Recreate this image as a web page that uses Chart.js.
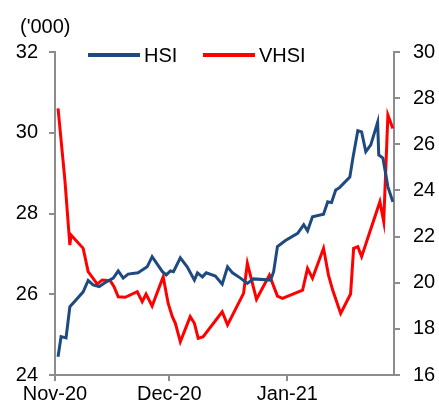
<!DOCTYPE html>
<html>
<head>
<meta charset="utf-8">
<script src="https://cdn.jsdelivr.net/npm/chart.js@4"></script>
<style>
    html, body { margin: 0; padding: 0; background: #fff; }
</style>
</head>
<body>
<canvas id="chart" width="439" height="411"></canvas>
<script>
// Días desde el 1 de noviembre de 2020
const tickDays = [0, 30, 61];
const tickLabels = ['Nov-20', 'Dec-20', 'Jan-21'];
const unitLabel = "('000)";

// HSI (eje izquierdo, miles)
const hsiDays = [0.8, 1.6, 2.9, 3.9, 5.5, 7.4, 8.7, 10, 11.6, 13.2, 15.3, 16.6, 17.9, 19.2, 21.8,
    24.2, 25.5, 28.2, 29.2, 30.3, 31.1, 32.9, 34.7, 36.6, 37.4, 38.7, 39.7, 42.1, 43.9, 45.3,
    46.6, 48.7, 50.5, 52.1, 56.6, 57.4, 58.4, 60.5, 63.7, 65.3, 66.3, 67.6, 70.5, 71.6, 72.6,
    73.7, 74.7, 77.4, 78.2, 79.5, 80.5, 81.6, 82.9, 84.7, 85, 86.1, 87.4, 88.7];
const hsiValues = [24.45, 24.95, 24.92, 25.69, 25.86, 26.06, 26.34, 26.23, 26.19, 26.29, 26.40, 26.58, 26.40, 26.50, 26.53,
    26.68, 26.93, 26.56, 26.48, 26.58, 26.56, 26.90, 26.68, 26.35, 26.53, 26.43, 26.53, 26.45, 26.25, 26.68,
    26.53, 26.40, 26.27, 26.38, 26.35, 26.56, 27.18, 27.33, 27.51, 27.72, 27.57, 27.92, 27.98, 28.29, 28.27,
    28.58, 28.64, 28.90, 29.37, 30.05, 30.02, 29.53, 29.70, 30.26, 29.45, 29.37, 28.66, 28.29];

// VHSI (eje derecho)
const vhsiDays = [0.8, 2.6, 3.9, 4.2, 7.4, 8.7, 11.1, 12.4, 14.5, 15.5, 16.6, 18.4, 21.6, 22.9, 23.9,
    25.5, 28.4, 29.7, 30.8, 31.6, 32.9, 35.5, 36.6, 37.6, 38.9, 43.9, 45.3, 49.5, 50.5, 52.9,
    56.3, 58.4, 59.7, 65, 66.3, 67.6, 70.5, 71.8, 72.9, 75, 77.6, 78.4, 79.5, 80.5, 82.1,
    85.3, 86.3, 87.4, 88.7];
const vhsiValues = [27.56, 24.45, 21.63, 22.07, 21.49, 20.48, 19.94, 20.12, 20.09, 19.83, 19.39, 19.37, 19.61, 19.18, 19.51,
    18.99, 20.26, 19.11, 18.53, 18.24, 17.44, 18.53, 18.24, 17.59, 17.66, 18.74, 18.17, 19.54, 20.84, 19.28,
    20.33, 19.42, 19.32, 19.68, 20.62, 20.19, 21.49, 20.33, 19.68, 18.67, 19.51, 21.49, 21.56, 21.13, 21.93,
    23.51, 22.65, 27.27, 26.69];

const colors = {
    hsi: '#1F4A80',
    vhsi: '#FF0000',
    axis: '#8C8C8C',
    text: '#000000'
};
const fontSpec = { family: "'Liberation Sans', Arial, sans-serif", size: 20 };

Chart.defaults.font.family = fontSpec.family;
Chart.defaults.color = colors.text;

const toPoints = (xs, ys) => xs.map((x, i) => ({ x: x, y: ys[i] }));

// Leyenda y unidad dibujadas dentro del área
const legendX = [88, 203];
const extras = {
    id: 'extras',
    afterDraw(chart) {
        const ctx = chart.ctx;
        ctx.save();
        ctx.font = fontSpec.size + 'px ' + fontSpec.family;
        ctx.fillStyle = colors.text;
        ctx.textBaseline = 'middle';
        ctx.fillText(unitLabel, 20, 27);
        chart.data.datasets.forEach(function (ds, i) {
            const x = legendX[i];
            ctx.strokeStyle = ds.borderColor;
            ctx.lineWidth = 4;
            ctx.beginPath();
            ctx.moveTo(x, 55);
            ctx.lineTo(x + 52, 55);
            ctx.stroke();
            ctx.fillStyle = colors.text;
            ctx.fillText(ds.label, x + 56, 56);
        });
        ctx.restore();
    }
};

const axisGrid = {
    drawOnChartArea: false,
    drawTicks: true,
    tickLength: 6,
    color: colors.axis,
    lineWidth: 2
};
const axisBorder = { display: true, color: colors.axis, width: 2 };

new Chart(document.getElementById('chart').getContext('2d'), {
    type: 'line',
    data: {
        datasets: [{
            label: 'HSI',
            data: toPoints(hsiDays, hsiValues),
            borderColor: colors.hsi,
            borderWidth: 3,
            pointRadius: 0,
            tension: 0,
            yAxisID: 'y'
        }, {
            label: 'VHSI',
            data: toPoints(vhsiDays, vhsiValues),
            borderColor: colors.vhsi,
            borderWidth: 3,
            pointRadius: 0,
            tension: 0,
            yAxisID: 'y1'
        }]
    },
    options: {
        responsive: false,
        animation: false,
        layout: { padding: { top: 52, left: 0, right: 0, bottom: 0 } },
        plugins: {
            legend: { display: false },
            tooltip: { enabled: false }
        },
        scales: {
            x: {
                type: 'linear',
                position: 'bottom',
                min: 0,
                max: 89,
                afterBuildTicks: function (axis) {
                    axis.ticks = tickDays.map(function (v) { return { value: v }; });
                },
                afterFit: function (scale) { scale.height = 36; },
                grid: axisGrid,
                border: axisBorder,
                ticks: {
                    autoSkip: false,
                    maxRotation: 0,
                    padding: 1,
                    font: fontSpec,
                    color: colors.text,
                    callback: function (value, index) { return tickLabels[index]; }
                }
            },
            y: {
                position: 'left',
                min: 24,
                max: 32,
                afterFit: function (scale) { scale.width = 55; },
                grid: axisGrid,
                border: axisBorder,
                ticks: { stepSize: 2, padding: 11, font: fontSpec, color: colors.text }
            },
            y1: {
                position: 'right',
                min: 16,
                max: 30,
                afterFit: function (scale) { scale.width = 45; },
                grid: axisGrid,
                border: axisBorder,
                ticks: { stepSize: 2, padding: 13, font: fontSpec, color: colors.text }
            }
        }
    },
    plugins: [extras]
});
</script>
</body>
</html>
